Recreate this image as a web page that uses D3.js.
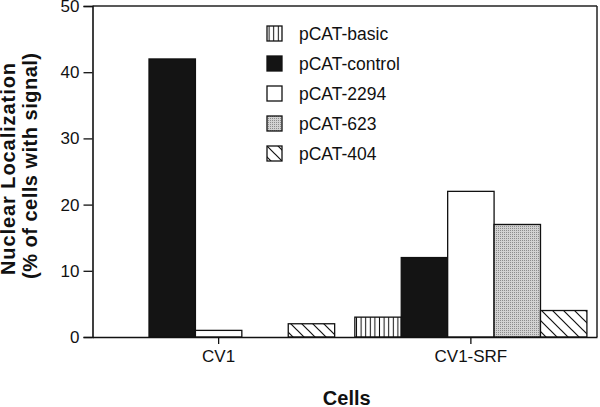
<!DOCTYPE html>
<html>
<head>
<meta charset="utf-8">
<script src="https://cdn.jsdelivr.net/npm/d3@7"></script>
<style>
  html, body { margin: 0; padding: 0; background: #fff; }
  svg { display: block; font-family: "Liberation Sans", Arial, Helvetica, sans-serif; }
</style>
</head>
<body>
<svg id="chart" width="600" height="407"></svg>
<script>
// ---- data ----
const categories = ["CV1", "CV1-SRF"];
const seriesNames = ["pCAT-basic", "pCAT-control", "pCAT-2294", "pCAT-623", "pCAT-404"];
const basicValues   = [0, 3];
const controlValues = [42, 12];
const v2294Values   = [1, 22];
const v623Values    = [0, 17];
const v404Values    = [2, 4];
const yTicks = [0, 10, 20, 30, 40, 50];
const yTitle1 = "Nuclear Localization";
const yTitle2 = "(% of cells with signal)";
const xTitle = "Cells";

(function () {
const seriesValues = [basicValues, controlValues, v2294Values, v623Values, v404Values];
const fills = ["url(#vstripe)", "#141414", "#ffffff", "url(#stipple)", "url(#diag)"];

const svg = d3.select("#chart");
const pL = 92.5, pR = 597, pT = 6, pB = 337;

// patterns
const defs = svg.append("defs");
const vs = defs.append("pattern").attr("id", "vstripe").attr("patternUnits", "userSpaceOnUse")
  .attr("width", 4.6).attr("height", 10);
vs.append("rect").attr("width", 4.6).attr("height", 10).attr("fill", "#fff");
vs.append("line").attr("x1", 2.3).attr("x2", 2.3).attr("y1", 0).attr("y2", 10)
  .attr("stroke", "#111").attr("stroke-width", 1);

const st = defs.append("pattern").attr("id", "stipple").attr("patternUnits", "userSpaceOnUse")
  .attr("width", 2).attr("height", 2);
st.append("rect").attr("width", 2).attr("height", 2).attr("fill", "#d2d2d2");
st.append("rect").attr("width", 1).attr("height", 1).attr("fill", "#8c8c8c");

const dg = defs.append("pattern").attr("id", "diag").attr("patternUnits", "userSpaceOnUse")
  .attr("width", 11).attr("height", 11);
dg.append("rect").attr("width", 11).attr("height", 11).attr("fill", "#fff");
dg.append("path").attr("d", "M0,0 L11,11 M-2,9 L2,13 M9,-2 L13,2")
  .attr("stroke", "#111").attr("stroke-width", 1.2);

// scales
const x0 = d3.scaleBand().domain(categories).range([pL, pR]).paddingInner(0.08).paddingOuter(0.04);
const x1 = d3.scaleBand().domain(seriesNames).range([0, x0.bandwidth()]);
const y = d3.scaleLinear().domain([0, 50]).range([pB, pT]);

// bars
const g = svg.append("g");
categories.forEach((cat, ci) => {
  seriesNames.forEach((s, si) => {
    const v = seriesValues[si][ci];
    if (v <= 0) return;
    g.append("rect")
      .attr("x", x0(cat) + x1(s))
      .attr("y", y(v))
      .attr("width", x1.bandwidth())
      .attr("height", y(0) - y(v))
      .attr("fill", fills[si])
      .attr("stroke", "#111")
      .attr("stroke-width", 1.3);
  });
});

// frame
svg.append("line").attr("x1", pL).attr("x2", pR).attr("y1", pT).attr("y2", pT)
  .attr("stroke", "#222").attr("stroke-width", 1.3);
svg.append("line").attr("x1", pR).attr("x2", pR).attr("y1", pT).attr("y2", pB)
  .attr("stroke", "#222").attr("stroke-width", 1.5);

// axes
const yAxis = svg.append("g").attr("transform", `translate(${pL},0)`)
  .call(d3.axisLeft(y).tickValues(yTicks).tickSize(9).tickPadding(4).tickFormat(d3.format("d")));
yAxis.select(".domain").attr("stroke", "#111").attr("stroke-width", 1.6);
yAxis.selectAll(".tick line").attr("stroke", "#111").attr("stroke-width", 1.3);
yAxis.selectAll(".tick text").attr("font-size", 17).attr("fill", "#111")
  .attr("font-family", "'Liberation Sans', Arial, sans-serif");

const xAxis = svg.append("g").attr("transform", `translate(0,${pB})`)
  .call(d3.axisBottom(x0).tickSize(7).tickPadding(6).tickSizeOuter(0));
xAxis.select(".domain").attr("stroke", "#111").attr("stroke-width", 1.6);
xAxis.selectAll(".tick line").attr("stroke", "#111").attr("stroke-width", 1.3);
xAxis.selectAll(".tick text").attr("font-size", 17).attr("fill", "#111")
  .attr("font-family", "'Liberation Sans', Arial, sans-serif");

// axis titles
svg.append("text").attr("x", (pL + pR) / 2 + 2).attr("y", 405)
  .attr("text-anchor", "middle").attr("font-size", 20).attr("font-weight", "bold").attr("fill", "#111")
  .text(xTitle);
svg.append("text").attr("transform", "translate(15,169) rotate(-90)")
  .attr("text-anchor", "middle").attr("font-size", 20).attr("font-weight", "bold").attr("fill", "#111")
  .attr("textLength", 212).attr("lengthAdjust", "spacing")
  .text(yTitle1);
svg.append("text").attr("transform", "translate(37,166) rotate(-90)")
  .attr("text-anchor", "middle").attr("font-size", 20).attr("font-weight", "bold").attr("fill", "#111")
  .attr("textLength", 226).attr("lengthAdjust", "spacing")
  .text(yTitle2);

// legend
const legend = svg.append("g");
seriesNames.forEach((s, i) => {
  const cy = 33.5 + i * 30;
  legend.append("rect").attr("x", 267).attr("y", cy - 7.5).attr("width", 15).attr("height", 15)
    .attr("fill", fills[i]).attr("stroke", "#111").attr("stroke-width", 1.3);
  legend.append("text").attr("x", 299).attr("y", cy + 6.3)
    .attr("font-size", 17.5).attr("fill", "#111").text(s);
});
})();
</script>
</body>
</html>
